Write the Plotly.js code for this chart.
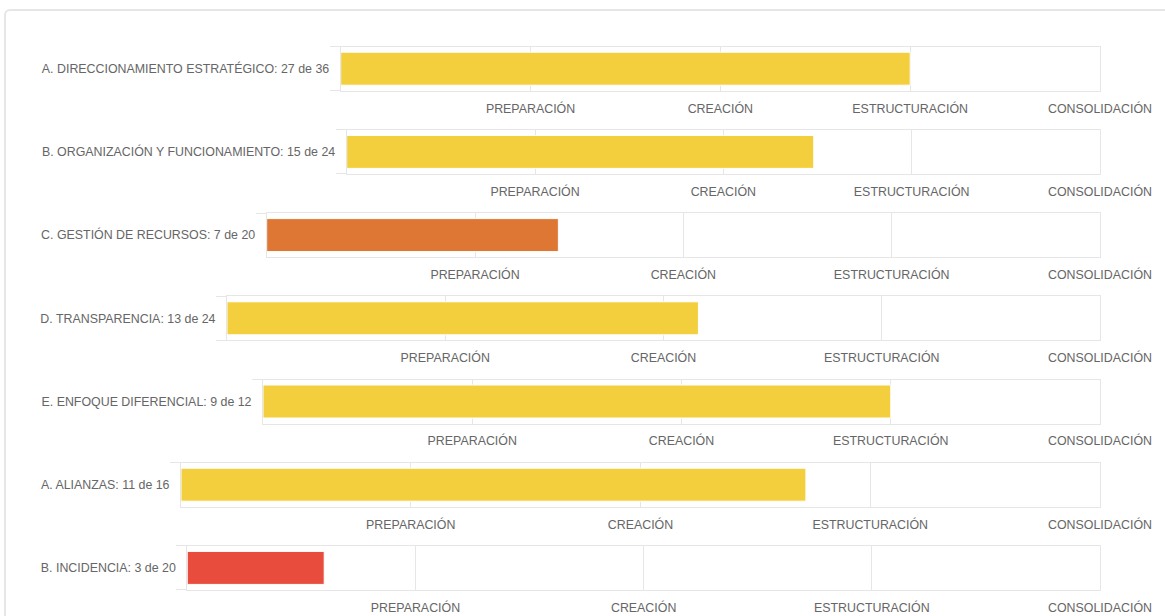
<!DOCTYPE html>
<html>
<head>
<meta charset="utf-8">
<script src="https://cdn.plot.ly/plotly-3.0.1.min.js"></script>
<style>
  html, body { margin: 0; padding: 0; background: #ffffff; }
  #wrap { position: relative; width: 1165px; height: 616px; overflow: hidden; }
  #card { position: absolute; left: 4px; top: 9px; width: 1200px; height: 700px;
          border: 2px solid #e6e6e6; border-radius: 6px; box-sizing: border-box; }
  #chart { position: absolute; left: 0; top: 0; width: 1165px; height: 616px; }
</style>
</head>
<body>
<div id="wrap">
  <div id="card"></div>
  <div id="chart"></div>
</div>
<script>
// ---- data ----
var names = [
  "A. DIRECCIONAMIENTO ESTRATÉGICO",
  "B. ORGANIZACIÓN Y FUNCIONAMIENTO",
  "C. GESTIÓN DE RECURSOS",
  "D. TRANSPARENCIA",
  "E. ENFOQUE DIFERENCIAL",
  "A. ALIANZAS",
  "B. INCIDENCIA"
];
var scores = [27, 15, 7, 13, 9, 11, 3];
var totals = [36, 24, 20, 24, 12, 16, 20];
var percents = [75, 62, 35, 54, 75, 68, 15];
var barColors = ["#f3cf3e", "#f3cf3e", "#de7733", "#f3cf3e", "#f3cf3e", "#f3cf3e", "#e74c3c"];
var stageValues = [25, 50, 75, 100];
var stageLabels = ["PREPARACIÓN", "CREACIÓN", "ESTRUCTURACIÓN", "CONSOLIDACIÓN"];

(function () {
  // ---- layout geometry (pixels) ----
  var W = 1165, H = 616;
  var plotLefts = [340.7, 346.7, 266.7, 227, 263, 181, 187.3];
  var plotRight = 1100;
  var firstTop = 46.7, rowStep = 83.2, rowHeight = 44;

  var fontFamily = "'Liberation Sans', Arial, Helvetica, sans-serif";
  var textColor = "#666666";
  var lineColor = "#e6e6e6";
  var fs = 12.4;

  var data = [];
  var layout = {
    width: W, height: H,
    margin: {l: 0, r: 0, t: 0, b: 0, pad: 0},
    paper_bgcolor: "rgba(0,0,0,0)",
    plot_bgcolor: "rgba(0,0,0,0)",
    showlegend: false,
    bargap: 0.25,
    font: {family: fontFamily, size: fs, color: textColor}
  };

  for (var i = 0; i < names.length; i++) {
    var label = names[i] + ": " + scores[i] + " de " + totals[i];
    var sfx = i === 0 ? "" : String(i + 1);
    data.push({
      type: "bar",
      orientation: "h",
      x: [percents[i]],
      y: [label],
      xaxis: "x" + sfx,
      yaxis: "y" + sfx,
      marker: {color: barColors[i], line: {color: "#ffffff", width: 1}},
      hoverinfo: "x+y"
    });
    var rowTop = firstTop + i * rowStep;
    var rowBottom = rowTop + rowHeight;
    layout["xaxis" + sfx] = {
      domain: [plotLefts[i] / W, plotRight / W],
      anchor: "y" + sfx,
      range: [0, 100],
      fixedrange: true,
      tickmode: "array",
      tickvals: stageValues,
      ticktext: stageLabels,
      ticks: "outside",
      ticklen: 6,
      tickcolor: "rgba(0,0,0,0)",
      tickfont: {family: fontFamily, size: fs, color: textColor},
      showgrid: true,
      gridcolor: lineColor,
      gridwidth: 1,
      zeroline: false,
      showline: true,
      mirror: true,
      linecolor: lineColor,
      linewidth: 1
    };
    layout["yaxis" + sfx] = {
      domain: [1 - rowBottom / H, 1 - rowTop / H],
      anchor: "x" + sfx,
      type: "category",
      range: [-0.5, 0.5],
      fixedrange: true,
      tickson: "boundaries",
      ticks: "outside",
      ticklen: 10,
      tickcolor: lineColor,
      tickwidth: 1,
      ticklabelstandoff: 8,
      tickfont: {family: fontFamily, size: fs, color: textColor},
      showgrid: true,
      gridcolor: lineColor,
      zeroline: false,
      showline: true,
      mirror: true,
      linecolor: lineColor,
      linewidth: 1
    };
  }

  Plotly.newPlot("chart", data, layout, {displayModeBar: false, responsive: false});
})();
</script>
</body>
</html>
